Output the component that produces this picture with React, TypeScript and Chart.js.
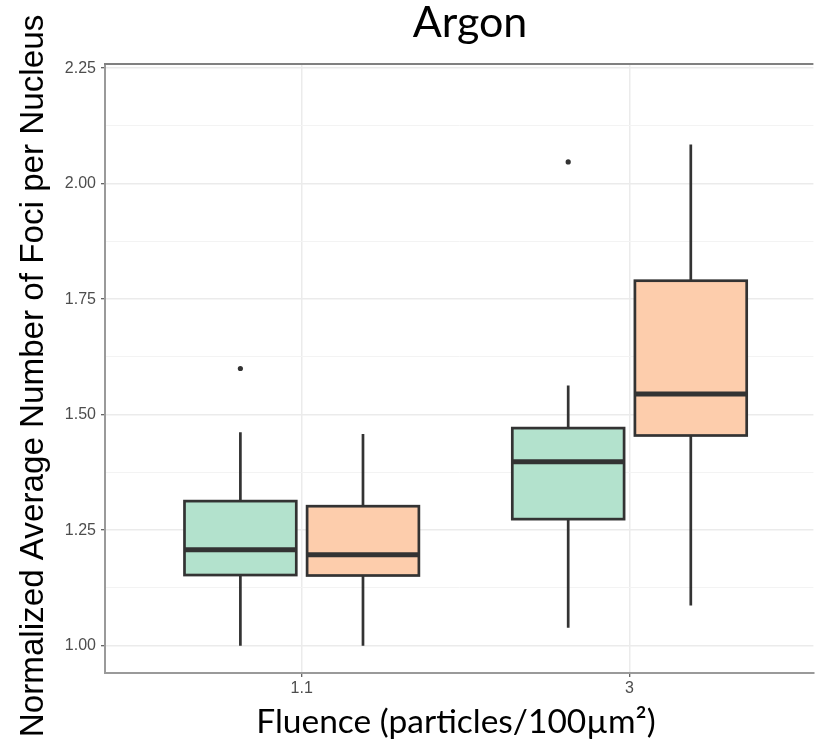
import React, { useEffect, useRef } from "react";
import { Chart, registerables } from "chart.js";

Chart.register(...registerables);

// ---- data ----
const categories = ["1.1", "3"];
const groupNames = ["Group 1", "Group 2"];

const greenMin = [1.0, 1.039];
const greenQ1 = [1.153, 1.274];
const greenMedian = [1.208, 1.398];
const greenQ3 = [1.313, 1.471];
const greenMax = [1.462, 1.563];
const greenOutliers = [[1.6], [2.047]];

const orangeMin = [1.0, 1.087];
const orangeQ1 = [1.152, 1.455];
const orangeMedian = [1.197, 1.545];
const orangeQ3 = [1.302, 1.79];
const orangeMax = [1.458, 2.085];
const orangeOutliers: number[][] = [[], []];

const yMajorTicks = [1.0, 1.25, 1.5, 1.75, 2.0, 2.25];
const yMinorTicks = [1.125, 1.375, 1.625, 1.875, 2.125];

// ---- style / layout ----
const GREEN = "#b3e2cd";
const ORANGE = "#fdcdac";
const INK = "#333333";
const BOX_WIDTH = 0.341;
const DODGE = 0.187;

const groups = [
  { name: groupNames[0], fill: GREEN, offset: -DODGE, min: greenMin, q1: greenQ1, med: greenMedian, q3: greenQ3, max: greenMax, out: greenOutliers },
  { name: groupNames[1], fill: ORANGE, offset: DODGE, min: orangeMin, q1: orangeQ1, med: orangeMedian, q3: orangeQ3, max: orangeMax, out: orangeOutliers },
];

const isMajor = (v: number) => yMajorTicks.some((m) => Math.abs(m - v) < 1e-6);

const boxPlugin = {
  id: "boxplot",
  beforeDatasetsDraw(chart: any) {
    const { ctx, scales } = chart;
    const x = scales.x;
    const y = scales.y;
    ctx.save();
    groups.forEach((g) => {
      categories.forEach((_, i) => {
        const c = i + 1 + g.offset;
        const xl = x.getPixelForValue(c - BOX_WIDTH / 2);
        const xr = x.getPixelForValue(c + BOX_WIDTH / 2);
        const xc = x.getPixelForValue(c);
        const yMin = y.getPixelForValue(g.min[i]);
        const yQ1 = y.getPixelForValue(g.q1[i]);
        const yMed = y.getPixelForValue(g.med[i]);
        const yQ3 = y.getPixelForValue(g.q3[i]);
        const yMax = y.getPixelForValue(g.max[i]);
        ctx.strokeStyle = INK;
        ctx.lineCap = "butt";
        ctx.lineWidth = 2.7;
        ctx.beginPath();
        ctx.moveTo(xc, yMax);
        ctx.lineTo(xc, yQ3);
        ctx.moveTo(xc, yQ1);
        ctx.lineTo(xc, yMin);
        ctx.stroke();
        ctx.fillStyle = g.fill;
        ctx.fillRect(xl, yQ3, xr - xl, yQ1 - yQ3);
        ctx.lineJoin = "miter";
        ctx.strokeRect(xl, yQ3, xr - xl, yQ1 - yQ3);
        ctx.lineWidth = 5;
        ctx.beginPath();
        ctx.moveTo(xl, yMed);
        ctx.lineTo(xr, yMed);
        ctx.stroke();
      });
    });
    ctx.restore();
  },
  afterDraw(chart: any) {
    const { ctx, chartArea } = chart;
    ctx.save();
    ctx.strokeStyle = "#808080";
    ctx.lineWidth = 2;
    ctx.beginPath();
    ctx.moveTo(chartArea.left - 1, chartArea.top);
    ctx.lineTo(chartArea.right, chartArea.top);
    ctx.stroke();

    ctx.fillStyle = "#000000";
    ctx.textAlign = "center";
    ctx.textBaseline = "alphabetic";
    ctx.font = "43px Lato";
    ctx.fillText("Argon", 470, 37);
    ctx.font = "33.5px Lato";
    ctx.fillText("Fluence (particles/100\u00b5m\u00b2)", 456, 733);

    ctx.translate(43, 376);
    ctx.rotate(-Math.PI / 2);
    ctx.font = "33.2px 'Liberation Sans'";
    ctx.fillText("Normalized Average Number of Foci per Nucleus", 0, 0);
    ctx.restore();
  },
};

export default function App() {
  const ref = useRef<HTMLCanvasElement | null>(null);
  useEffect(() => {
    document.body.style.margin = "0";
    const canvas = ref.current;
    if (!canvas) return;
    const outlierData = groups.map((g) => ({
      label: g.name + " outliers",
      data: g.out.flatMap((vals, i) => vals.map((v) => ({ x: i + 1 + g.offset, y: v }))),
      pointRadius: 2.6,
      pointHoverRadius: 2.6,
      pointBackgroundColor: INK,
      pointBorderColor: INK,
      pointBorderWidth: 0,
      showLine: false,
    }));
    const chart = new Chart(canvas, {
      type: "scatter",
      data: { datasets: outlierData as any },
      plugins: [boxPlugin as any],
      options: {
        animation: false,
        responsive: false,
        devicePixelRatio: 1,
        layout: { padding: { top: 64, right: 0, left: 0, bottom: 0 } },
        plugins: { legend: { display: false }, tooltip: { enabled: false }, title: { display: false } },
        scales: {
          x: {
            type: "linear",
            min: 0.4,
            max: 2.561,
            afterBuildTicks: (s: any) => {
              s.ticks = categories.map((_, i) => ({ value: i + 1 }));
            },
            afterFit: (s: any) => {
              s.height = 78;
            },
            ticks: {
              callback: (v: any) => categories[Math.round(Number(v)) - 1] ?? "",
              color: "#4d4d4d",
              font: { family: "'Liberation Sans'", size: 16 },
              padding: 2,
              maxRotation: 0,
              autoSkip: false,
            },
            grid: { color: "#ebebeb", lineWidth: 1.5, tickLength: 4, tickColor: INK, tickWidth: 1 },
            border: { color: "#9a9a9a", width: 2 },
          },
          y: {
            type: "linear",
            min: 0.941,
            max: 2.259,
            afterBuildTicks: (s: any) => {
              s.ticks = [...yMajorTicks, ...yMinorTicks].sort((a, b) => a - b).map((v) => ({ value: v }));
            },
            afterFit: (s: any) => {
              s.width = 105;
            },
            ticks: {
              callback: (v: any) => (isMajor(Number(v)) ? Number(v).toFixed(2) : ""),
              color: "#4d4d4d",
              font: { family: "'Liberation Sans'", size: 16 },
              padding: 5,
              autoSkip: false,
            },
            grid: {
              color: (c: any) => (isMajor(c.tick?.value) ? "#ebebeb" : "#f3f3f3"),
              lineWidth: (c: any) => (isMajor(c.tick?.value) ? 1.5 : 1),
              tickLength: 4,
              tickColor: (c: any) => (isMajor(c.tick?.value) ? INK : "rgba(0,0,0,0)"),
              tickWidth: 1,
            },
            border: { color: "#9a9a9a", width: 2 },
          },
        },
      },
    });
    return () => chart.destroy();
  }, []);
  return (
    <div style={{ width: 816, height: 751 }}>
      <canvas ref={ref} width={816} height={751} style={{ display: "block" }} />
    </div>
  );
}
